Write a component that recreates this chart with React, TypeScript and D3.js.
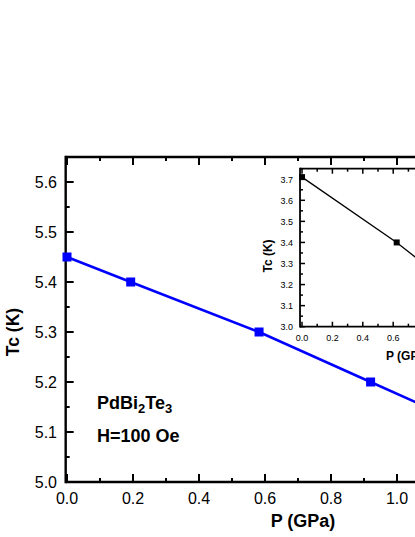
import React from "react";
import * as d3 from "d3";

const mainP = [0, 0.193, 0.582, 0.92, 1.24];
const mainTc = [5.45, 5.4, 5.3, 5.2, 5.105];
const mainXTicks = [0, 0.2, 0.4, 0.6, 0.8, 1.0, 1.2, 1.4];
const mainYTicks = [5.0, 5.1, 5.2, 5.3, 5.4, 5.5, 5.6];

const insetP = [0, 0.623, 1.0];
const insetTc = [3.71, 3.4, 3.185];
const insetXTicks = [0, 0.2, 0.4, 0.6, 0.8, 1.0];
const insetYTicks = [3.0, 3.1, 3.2, 3.3, 3.4, 3.5, 3.6, 3.7];

const FONT = "'Liberation Sans', Arial, Helvetica, sans-serif";
const W = 415;

function range(a: number, b: number, step: number) {
  const out: number[] = [];
  for (let v = a; v <= b + 1e-9; v += step) out.push(+v.toFixed(4));
  return out;
}

export default function App() {
  // main scales
  const x = d3.scaleLinear().domain([0, 1]).range([67, 397]);
  const y = d3.scaleLinear().domain([5.0, 5.65]).range([482, 157]);
  const xL = x(-0.004), xR = x(1.5);
  const yB = y(5.0), yT = y(5.65);

  // inset scales
  const ix = d3.scaleLinear().domain([0, 1]).range([302, 454]);
  const iy = d3.scaleLinear().domain([3.0, 3.75]).range([326.7, 168.7]);
  const ixL = ix(-0.013), ixR = ix(1.3);
  const iyB = iy(3.0), iyT = iy(3.75);

  const mainLine = d3.line<number>().x((_, i) => x(mainP[i])).y((d) => y(d));
  const insetLine = d3.line<number>().x((_, i) => ix(insetP[i])).y((d) => iy(d));

  const mainXMinor = range(0, 1.5, 0.1);
  const mainYMinor = range(5.0, 5.65, 0.05);
  const insetXMinor = range(0, 1.3, 0.1);
  const insetYMinor = range(3.0, 3.75, 0.05);

  const fmt = d3.format(".1f");

  return (
    <svg width={W} height={537} style={{ position: "absolute", left: 0, top: 0 }}>
      <rect width={W} height={537} fill="white" />
      {/* main ticks */}
      <g stroke="black" strokeWidth={2}>
        {mainXMinor.map((v) => {
          const major = mainXTicks.some((t) => Math.abs(t - v) < 1e-6);
          const len = major ? 8 : 4;
          return (
            <g key={"mx" + v}>
              <line x1={x(v)} x2={x(v)} y1={yB} y2={yB - len} />
              <line x1={x(v)} x2={x(v)} y1={yT} y2={yT + len} />
            </g>
          );
        })}
        {mainYMinor.map((v) => {
          const major = mainYTicks.some((t) => Math.abs(t - v) < 1e-6);
          const len = major ? 8 : 4;
          return <line key={"my" + v} x1={xL} x2={xL + len} y1={y(v)} y2={y(v)} />;
        })}
      </g>
      {/* main frame */}
      <g stroke="black" strokeWidth={2.4} fill="none">
        <line x1={xL} x2={xR} y1={yB} y2={yB} />
        <line x1={xL} x2={xR} y1={yT} y2={yT} />
        <line x1={xL} x2={xL} y1={yB + 1.2} y2={yT - 1.2} />
      </g>
      {/* main tick labels */}
      <g fontFamily={FONT} fontSize={16} fill="black">
        {mainXTicks
          .filter((v) => x(v) + 12 < W)
          .map((v) => (
            <text key={"lx" + v} x={x(v)} y={504} textAnchor="middle">
              {fmt(v)}
            </text>
          ))}
        {mainYTicks.map((v) => (
          <text key={"ly" + v} x={57} y={y(v) + 5.8} textAnchor="end">
            {fmt(v)}
          </text>
        ))}
      </g>
      {/* main titles */}
      <text x={303} y={527} fontFamily={FONT} fontSize={18} fontWeight="bold" textAnchor="middle">
        P (GPa)
      </text>
      <text
        transform="translate(18.5,332) rotate(-90)"
        fontFamily={FONT}
        fontSize={17.5}
        fontWeight="bold"
        textAnchor="middle"
      >
        Tc (K)
      </text>
      {/* main data */}
      <path d={mainLine(mainTc) || ""} fill="none" stroke="#0000ff" strokeWidth={2.5} />
      {mainTc.map((v, i) => (
        <rect key={"m" + i} x={x(mainP[i]) - 4.5} y={y(v) - 4.5} width={9} height={9} fill="#0000ff" />
      ))}
      {/* annotation */}
      <text x={97} y={409} fontFamily={FONT} fontSize={18} fontWeight="bold">
        PdBi
        <tspan fontSize={13} dy={4}>2</tspan>
        <tspan dy={-4}>Te</tspan>
        <tspan fontSize={13} dy={4}>3</tspan>
      </text>
      <text x={97} y={442} fontFamily={FONT} fontSize={18} fontWeight="bold">
        H=100 Oe
      </text>

      {/* inset */}
      <g stroke="black" strokeWidth={1.5}>
        {insetXMinor.map((v) => {
          const major = insetXTicks.some((t) => Math.abs(t - v) < 1e-6);
          const len = major ? 5 : 3;
          return (
            <g key={"ix" + v}>
              <line x1={ix(v)} x2={ix(v)} y1={iyB} y2={iyB - len} />
              <line x1={ix(v)} x2={ix(v)} y1={iyT} y2={iyT + len} />
            </g>
          );
        })}
        {insetYMinor.map((v) => {
          const major = insetYTicks.some((t) => Math.abs(t - v) < 1e-6);
          const len = major ? 5 : 3;
          return <line key={"iy" + v} x1={ixL} x2={ixL + len} y1={iy(v)} y2={iy(v)} />;
        })}
      </g>
      <g stroke="black" strokeWidth={1.8} fill="none">
        <line x1={ixL} x2={ixR} y1={iyB} y2={iyB} />
        <line x1={ixL} x2={ixR} y1={iyT} y2={iyT} />
        <line x1={ixL} x2={ixL} y1={iyB + 0.9} y2={iyT - 0.9} />
      </g>
      <g fontFamily={FONT} fontSize={9} fill="black">
        {insetXTicks
          .filter((v) => ix(v) + 7 < W)
          .map((v) => (
            <text key={"ilx" + v} x={ix(v)} y={341} textAnchor="middle">
              {fmt(v)}
            </text>
          ))}
        {insetYTicks.map((v) => (
          <text key={"ily" + v} x={293} y={iy(v) + 3.3} textAnchor="end">
            {fmt(v)}
          </text>
        ))}
      </g>
      <text x={386} y={360} fontFamily={FONT} fontSize={12} fontWeight="bold">
        P (GPa)
      </text>
      <text
        transform="translate(271.5,256) rotate(-90)"
        fontFamily={FONT}
        fontSize={12}
        fontWeight="bold"
        textAnchor="middle"
      >
        Tc (K)
      </text>
      <path d={insetLine(insetTc) || ""} fill="none" stroke="black" strokeWidth={1.3} />
      {insetTc.map((v, i) => (
        <rect key={"i" + i} x={ix(insetP[i]) - 3} y={iy(v) - 3} width={6} height={6} fill="black" />
      ))}
    </svg>
  );
}
